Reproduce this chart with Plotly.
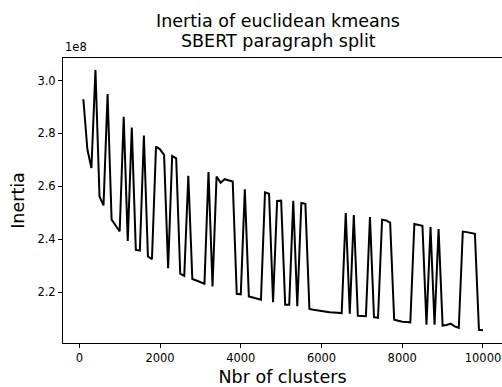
import plotly.graph_objects as go

# Number of clusters
n_clusters = list(range(100, 10001, 100))

# Inertia values (in units of 1e8)
inertia_e8 = [
    2.929, 2.740, 2.669, 3.040, 2.562, 2.528, 2.949, 2.474, 2.452, 2.430,
    2.863, 2.394, 2.822, 2.360, 2.357, 2.792, 2.335, 2.325, 2.750, 2.740,
    2.719, 2.291, 2.715, 2.706, 2.270, 2.262, 2.640, 2.250, 2.244, 2.238,
    2.232, 2.654, 2.222, 2.637, 2.614, 2.627, 2.622, 2.618, 2.194, 2.192,
    2.589, 2.184, 2.180, 2.176, 2.172, 2.577, 2.572, 2.162, 2.545, 2.546,
    2.153, 2.153, 2.545, 2.147, 2.537, 2.534, 2.137, 2.134, 2.131, 2.129,
    2.127, 2.124, 2.123, 2.122, 2.121, 2.499, 2.119, 2.492, 2.111, 2.110,
    2.109, 2.484, 2.106, 2.103, 2.474, 2.471, 2.463, 2.096, 2.091, 2.088,
    2.087, 2.086, 2.458, 2.455, 2.451, 2.077, 2.446, 2.077, 2.439, 2.074,
    2.076, 2.081, 2.071, 2.065, 2.429, 2.427, 2.424, 2.421, 2.058, 2.056,
]

x_ticks = [0, 2000, 4000, 6000, 8000, 10000]
x_ticklabels = ["0", "2000", "4000", "6000", "8000", "10000"]
y_ticks = [2.2, 2.4, 2.6, 2.8, 3.0]
y_ticklabels = ["2.2", "2.4", "2.6", "2.8", "3.0"]
title_lines = ["Inertia of euclidean kmeans", "SBERT paragraph split"]

FONT = "DejaVu Sans"

fig = go.Figure()
fig.add_trace(go.Scatter(
    x=n_clusters, y=inertia_e8, mode="lines",
    line=dict(color="black", width=2),
    showlegend=False,
))

fig.update_layout(
    width=502, height=387,
    margin=dict(l=63, r=0, t=58, b=44),
    paper_bgcolor="white", plot_bgcolor="white",
    font=dict(family=FONT, color="black", size=11.5),
    xaxis=dict(
        range=[-404, 10471],
        tickvals=x_ticks, ticktext=x_ticklabels,
        ticks="outside", ticklen=4, tickwidth=1, tickcolor="black",
        showline=True, linecolor="black", linewidth=1, mirror=True,
        showgrid=False, zeroline=False,
        title=dict(text="Nbr of clusters", font=dict(size=17.5), standoff=7),
    ),
    yaxis=dict(
        range=[2.008, 3.085],
        tickvals=y_ticks, ticktext=y_ticklabels,
        ticks="outside", ticklen=4, tickwidth=1, tickcolor="black",
        showline=True, linecolor="black", linewidth=1, mirror=False,
        showgrid=False, zeroline=False,
        title=dict(text="Inertia", font=dict(size=17.5), standoff=8),
    ),
    annotations=[
        dict(text="1e8", xref="paper", yref="paper", x=0, y=1,
             xanchor="left", yanchor="bottom", yshift=2, showarrow=False,
             font=dict(family=FONT, size=11.5, color="black")),
        dict(text=title_lines[0], xref="paper", yref="paper", x=0.49, y=1,
             xanchor="center", yanchor="middle", yshift=37, showarrow=False,
             font=dict(family=FONT, size=17.5, color="black")),
        dict(text=title_lines[1], xref="paper", yref="paper", x=0.49, y=1,
             xanchor="center", yanchor="middle", yshift=17, showarrow=False,
             font=dict(family=FONT, size=17.5, color="black")),
    ],
)

fig.write_html("out.html")
